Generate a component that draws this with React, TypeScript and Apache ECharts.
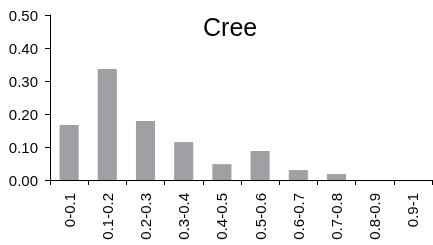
import React, { useEffect, useRef } from "react";
import * as echarts from "echarts";

const categories = ["0-0.1", "0.1-0.2", "0.2-0.3", "0.3-0.4", "0.4-0.5", "0.5-0.6", "0.6-0.7", "0.7-0.8", "0.8-0.9", "0.9-1"];
const values = [0.167, 0.336, 0.179, 0.115, 0.048, 0.088, 0.03, 0.018, 0, 0];
const titleText = "Cree";

export default function App() {
  const ref = useRef<HTMLDivElement>(null);
  useEffect(() => {
    if (!ref.current) return;
    const chart = echarts.init(ref.current, undefined, { renderer: "svg" });
    const font = "Liberation Sans, Arial, sans-serif";
    chart.setOption({
      animation: false,
      title: {
        text: titleText,
        left: 198,
        top: 9,
        textStyle: { fontSize: 25, fontWeight: "normal", color: "#000", fontFamily: font },
      },
      grid: { left: 50, right: 1, top: 15, bottom: 65, containLabel: false },
      xAxis: {
        type: "category",
        data: categories,
        axisLine: { lineStyle: { color: "#000", width: 1 } },
        axisTick: { show: true, length: 5, lineStyle: { color: "#000" } },
        axisLabel: { rotate: 90, color: "#000", fontSize: 15, fontFamily: font, margin: 13, interval: 0 },
        splitLine: { show: false },
      },
      yAxis: {
        type: "value",
        min: 0,
        max: 0.5,
        interval: 0.1,
        axisLine: { show: true, lineStyle: { color: "#000", width: 1 } },
        axisTick: { show: true, length: 5, lineStyle: { color: "#000" } },
        axisLabel: { color: "#000", fontSize: 15, fontFamily: font, margin: 12, formatter: (v: number) => v.toFixed(2) },
        splitLine: { show: false },
      },
      series: [
        {
          type: "bar",
          data: values,
          barWidth: "50%",
          itemStyle: { color: "#a0a0a4" },
        },
      ],
    });
    return () => chart.dispose();
  }, []);
  return <div ref={ref} style={{ position: "fixed", left: 0, top: 0, width: 433, height: 245 }} />;
}
